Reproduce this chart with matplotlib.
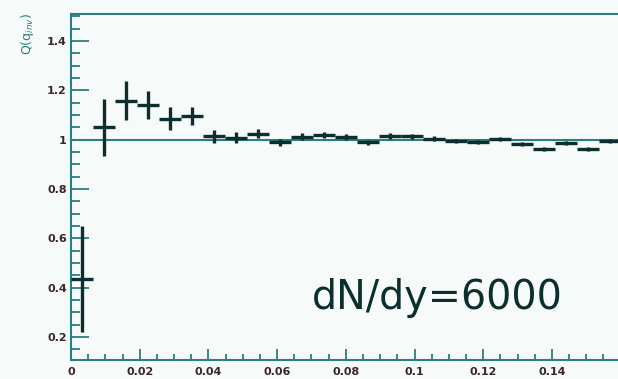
import numpy as np
import matplotlib
matplotlib.use('Agg')
import matplotlib.pyplot as plt
from matplotlib.ticker import MultipleLocator, FormatStrFormatter

# bin centres (25 bins of 0.0064 between 0 and 0.16)
q_inv = [0.0032, 0.0096, 0.0160, 0.0224, 0.0288, 0.0352, 0.0416, 0.0480, 0.0544,
         0.0608, 0.0672, 0.0736, 0.0800, 0.0864, 0.0928, 0.0992, 0.1056, 0.1120,
         0.1184, 0.1248, 0.1312, 0.1376, 0.1440, 0.1504, 0.1568]
q_val = [0.437, 1.051, 1.159, 1.141, 1.086, 1.096, 1.014, 1.008, 1.025,
         0.990, 1.012, 1.020, 1.010, 0.990, 1.016, 1.015, 1.004, 0.995,
         0.991, 1.004, 0.981, 0.964, 0.985, 0.964, 0.995]
q_err = [0.215, 0.115, 0.080, 0.055, 0.045, 0.035, 0.027, 0.022, 0.018,
         0.015, 0.014, 0.013, 0.012, 0.011, 0.011, 0.010, 0.010, 0.009,
         0.009, 0.009, 0.008, 0.008, 0.008, 0.008, 0.008]
bin_half = 0.0032
label = 'dN/dy=6000'

frame_col = '#2a7f7f'
text_col = '#3a2626'
mark_col = '#0c2e2e'

fig = plt.figure(figsize=(6.18, 3.79), dpi=100, facecolor='#f6faf8')
ax = fig.add_axes([71/618, 1 - 360/379, 549.6/618, 346/379])
ax.set_facecolor('#f6faf8')

ax.axhline(1.0, color=frame_col, lw=1.5, zorder=1)
ax.errorbar(q_inv, q_val, xerr=bin_half, yerr=q_err, fmt='none',
            ecolor=mark_col, elinewidth=2.4, capsize=0, zorder=3)

ax.set_xlim(0, 0.16)
ax.set_ylim(0.107, 1.51)

ax.set_xticks(np.arange(0, 0.141, 0.02))
ax.xaxis.set_minor_locator(MultipleLocator(0.005))
ax.set_yticks(np.arange(0.2, 1.41, 0.2))
ax.yaxis.set_minor_locator(MultipleLocator(0.05))
ax.xaxis.set_major_formatter(FormatStrFormatter('%g'))
ax.yaxis.set_major_formatter(FormatStrFormatter('%g'))

ax.tick_params(axis='x', which='major', direction='in', length=8, width=1.3,
               color=frame_col, pad=5, labelsize=8, labelcolor=text_col)
ax.tick_params(axis='x', which='minor', direction='in', length=4.3, width=1.3,
               color=frame_col)
ax.tick_params(axis='y', which='major', direction='in', length=13, width=1.3,
               color=frame_col, pad=3, labelsize=8, labelcolor=text_col)
ax.tick_params(axis='y', which='minor', direction='in', length=6.5, width=1.3,
               color=frame_col)
for lab in ax.get_xticklabels() + ax.get_yticklabels():
    lab.set_fontweight('bold')

for side in ['left', 'bottom', 'top', 'right']:
    ax.spines[side].set_color(frame_col)
    ax.spines[side].set_linewidth(1.5)

ax.text(0.070, 0.312, label, fontsize=28.5, color=mark_col, va='baseline', ha='left')

fig.text(0.045, 0.965, 'Q(q$_{inv}$)', rotation=90, ha='center', va='top',
         fontsize=9, color=frame_col)

fig.savefig('out.png', dpi=100, facecolor=fig.get_facecolor())
